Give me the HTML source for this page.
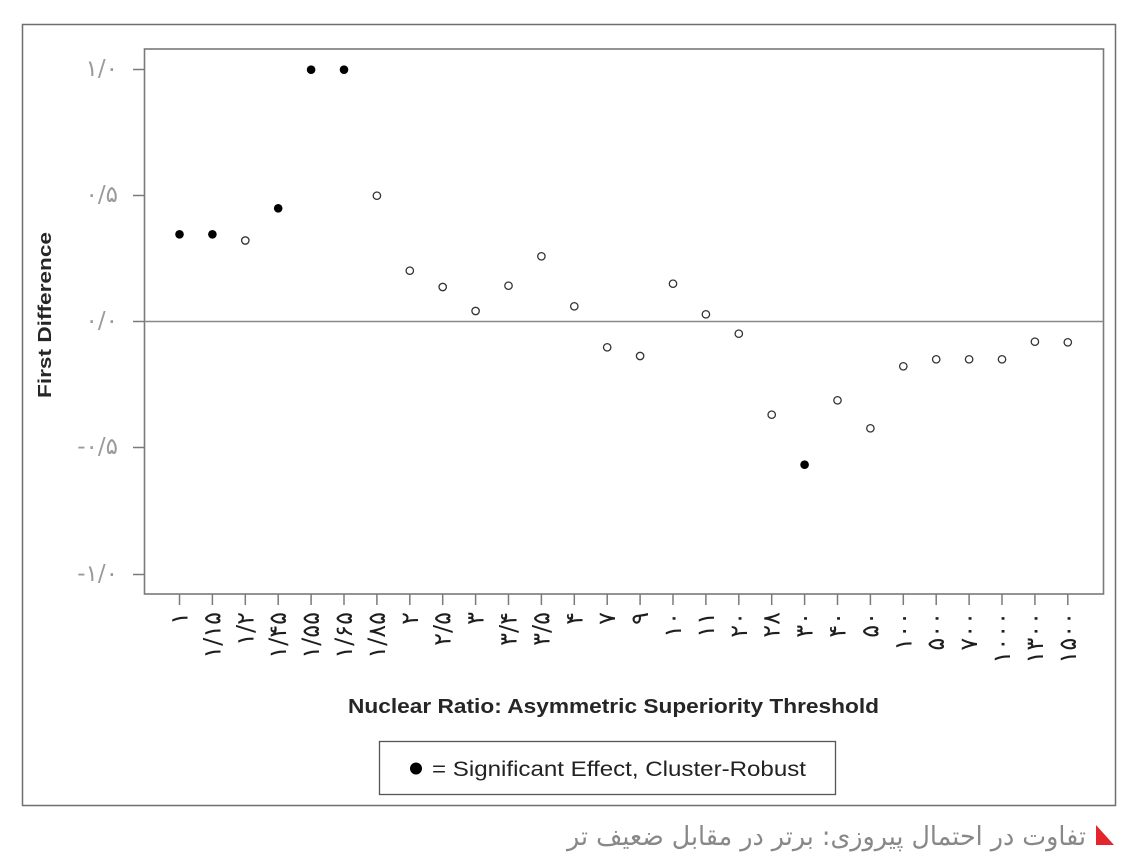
<!DOCTYPE html>
<html>
<head>
<meta charset="utf-8">
<style>
  html,body{margin:0;padding:0;background:#fff;}
  svg{display:block;}
</style>
</head>
<body>
<svg width="1140" height="858" viewBox="0 0 1140 858" xmlns="http://www.w3.org/2000/svg">
  <rect x="0" y="0" width="1140" height="858" fill="#fff"/>
  <!-- outer frame -->
  <rect x="22.5" y="24.5" width="1093" height="781" fill="none" stroke="#6e6e6e" stroke-width="1.5"/>
  <!-- plot box -->
  <rect x="144.5" y="49" width="959" height="545" fill="none" stroke="#7a7a7a" stroke-width="1.6"/>
  <!-- zero line -->
  <line x1="144.5" y1="321.5" x2="1103.5" y2="321.5" stroke="#888" stroke-width="1.5"/>

  <!-- y ticks -->
  <g stroke="#7a7a7a" stroke-width="1.5">
    <line x1="133" y1="69.5" x2="144.5" y2="69.5"/>
    <line x1="133" y1="195.5" x2="144.5" y2="195.5"/>
    <line x1="133" y1="321.5" x2="144.5" y2="321.5"/>
    <line x1="133" y1="447.5" x2="144.5" y2="447.5"/>
    <line x1="133" y1="574.5" x2="144.5" y2="574.5"/>
  </g>
  <g font-family="'DejaVu Sans', 'Liberation Sans', sans-serif" font-size="23" fill="#9a9a9a" text-anchor="end" dominant-baseline="central">
    <text x="118" y="69">۱/۰</text>
    <text x="118" y="195">۰/۵</text>
    <text x="118" y="321">۰/۰</text>
    <text x="118" y="447">-۰/۵</text>
    <text x="118" y="574">-۱/۰</text>
  </g>

  <!-- y axis title -->
  <text transform="translate(45,315) rotate(-90)" text-anchor="middle" dominant-baseline="central" font-family="'Liberation Sans', sans-serif" font-weight="bold" font-size="18" fill="#262626" textLength="166" lengthAdjust="spacingAndGlyphs">First Difference</text>

  <!-- x ticks -->
  <g stroke="#7a7a7a" stroke-width="1.5">
    <line x1="179.5" y1="594" x2="179.5" y2="605"/>
    <line x1="212.4" y1="594" x2="212.4" y2="605"/>
    <line x1="245.3" y1="594" x2="245.3" y2="605"/>
    <line x1="278.2" y1="594" x2="278.2" y2="605"/>
    <line x1="311.1" y1="594" x2="311.1" y2="605"/>
    <line x1="344.0" y1="594" x2="344.0" y2="605"/>
    <line x1="376.9" y1="594" x2="376.9" y2="605"/>
    <line x1="409.8" y1="594" x2="409.8" y2="605"/>
    <line x1="442.7" y1="594" x2="442.7" y2="605"/>
    <line x1="475.6" y1="594" x2="475.6" y2="605"/>
    <line x1="508.5" y1="594" x2="508.5" y2="605"/>
    <line x1="541.4" y1="594" x2="541.4" y2="605"/>
    <line x1="574.3" y1="594" x2="574.3" y2="605"/>
    <line x1="607.2" y1="594" x2="607.2" y2="605"/>
    <line x1="640.1" y1="594" x2="640.1" y2="605"/>
    <line x1="673.0" y1="594" x2="673.0" y2="605"/>
    <line x1="705.9" y1="594" x2="705.9" y2="605"/>
    <line x1="738.8" y1="594" x2="738.8" y2="605"/>
    <line x1="771.7" y1="594" x2="771.7" y2="605"/>
    <line x1="804.6" y1="594" x2="804.6" y2="605"/>
    <line x1="837.5" y1="594" x2="837.5" y2="605"/>
    <line x1="870.4" y1="594" x2="870.4" y2="605"/>
    <line x1="903.3" y1="594" x2="903.3" y2="605"/>
    <line x1="936.2" y1="594" x2="936.2" y2="605"/>
    <line x1="969.1" y1="594" x2="969.1" y2="605"/>
    <line x1="1002.0" y1="594" x2="1002.0" y2="605"/>
    <line x1="1034.9" y1="594" x2="1034.9" y2="605"/>
    <line x1="1067.8" y1="594" x2="1067.8" y2="605"/>
  </g>
  <!-- x tick labels (rotated) -->
  <g font-family="'DejaVu Sans', 'Liberation Sans', sans-serif" font-size="24" fill="#1e1e1e" text-anchor="end" dominant-baseline="central">
    <text transform="translate(179.5,612) rotate(-90)">۱</text>
    <text transform="translate(212.4,612) rotate(-90)">۱/۱۵</text>
    <text transform="translate(245.3,612) rotate(-90)">۱/۲</text>
    <text transform="translate(278.2,612) rotate(-90)">۱/۴۵</text>
    <text transform="translate(311.1,612) rotate(-90)">۱/۵۵</text>
    <text transform="translate(344.0,612) rotate(-90)">۱/۶۵</text>
    <text transform="translate(376.9,612) rotate(-90)">۱/۸۵</text>
    <text transform="translate(409.8,612) rotate(-90)">۲</text>
    <text transform="translate(442.7,612) rotate(-90)">۲/۵</text>
    <text transform="translate(475.6,612) rotate(-90)">۳</text>
    <text transform="translate(508.5,612) rotate(-90)">۳/۴</text>
    <text transform="translate(541.4,612) rotate(-90)">۳/۵</text>
    <text transform="translate(574.3,612) rotate(-90)">۴</text>
    <text transform="translate(607.2,612) rotate(-90)">۷</text>
    <text transform="translate(640.1,612) rotate(-90)">۹</text>
    <text transform="translate(673.0,612) rotate(-90)">۱۰</text>
    <text transform="translate(705.9,612) rotate(-90)">۱۱</text>
    <text transform="translate(738.8,612) rotate(-90)">۲۰</text>
    <text transform="translate(771.7,612) rotate(-90)">۲۸</text>
    <text transform="translate(804.6,612) rotate(-90)">۳۰</text>
    <text transform="translate(837.5,612) rotate(-90)">۴۰</text>
    <text transform="translate(870.4,612) rotate(-90)">۵۰</text>
    <text transform="translate(903.3,612) rotate(-90)">۱۰۰</text>
    <text transform="translate(936.2,612) rotate(-90)">۵۰۰</text>
    <text transform="translate(969.1,612) rotate(-90)">۷۰۰</text>
    <text transform="translate(1002.0,612) rotate(-90)">۱۰۰۰</text>
    <text transform="translate(1034.9,612) rotate(-90)">۱۳۰۰</text>
    <text transform="translate(1067.8,612) rotate(-90)">۱۵۰۰</text>
  </g>

  <!-- filled (significant) points -->
  <g fill="#000">
    <circle cx="179.5" cy="234.3" r="4.3"/>
    <circle cx="212.4" cy="234.3" r="4.3"/>
    <circle cx="278.2" cy="208.3" r="4.3"/>
    <circle cx="311.1" cy="69.7" r="4.3"/>
    <circle cx="344.0" cy="69.7" r="4.3"/>
    <circle cx="804.6" cy="464.7" r="4.3"/>
  </g>
  <!-- open points -->
  <g fill="#fff" stroke="#333" stroke-width="1.3">
    <circle cx="245.3" cy="240.5" r="3.7"/>
    <circle cx="376.9" cy="195.7" r="3.7"/>
    <circle cx="409.8" cy="270.7" r="3.7"/>
    <circle cx="442.7" cy="287.0" r="3.7"/>
    <circle cx="475.6" cy="311.0" r="3.7"/>
    <circle cx="508.5" cy="285.7" r="3.7"/>
    <circle cx="541.4" cy="256.3" r="3.7"/>
    <circle cx="574.3" cy="306.3" r="3.7"/>
    <circle cx="607.2" cy="347.3" r="3.7"/>
    <circle cx="640.1" cy="356.0" r="3.7"/>
    <circle cx="673.0" cy="283.7" r="3.7"/>
    <circle cx="705.9" cy="314.3" r="3.7"/>
    <circle cx="738.8" cy="333.7" r="3.7"/>
    <circle cx="771.7" cy="414.7" r="3.7"/>
    <circle cx="837.5" cy="400.3" r="3.7"/>
    <circle cx="870.4" cy="428.3" r="3.7"/>
    <circle cx="903.3" cy="366.3" r="3.7"/>
    <circle cx="936.2" cy="359.3" r="3.7"/>
    <circle cx="969.1" cy="359.3" r="3.7"/>
    <circle cx="1002.0" cy="359.3" r="3.7"/>
    <circle cx="1034.9" cy="341.7" r="3.7"/>
    <circle cx="1067.8" cy="342.3" r="3.7"/>
  </g>

  <!-- x axis title -->
  <text x="613.5" y="713" text-anchor="middle" font-family="'Liberation Sans', sans-serif" font-weight="bold" font-size="20" fill="#262626" textLength="531" lengthAdjust="spacingAndGlyphs">Nuclear Ratio: Asymmetric Superiority Threshold</text>

  <!-- legend -->
  <rect x="379.5" y="741.5" width="456" height="53" fill="#fff" stroke="#555" stroke-width="1.3"/>
  <circle cx="416" cy="768.5" r="6" fill="#000"/>
  <text x="432" y="776" font-family="'Liberation Sans', sans-serif" font-size="21" fill="#222" textLength="374" lengthAdjust="spacingAndGlyphs">= Significant Effect, Cluster-Robust</text>

  <!-- caption -->
  <polygon points="1096,825 1096,845 1114,845" fill="#e4262c"/>
  <text x="1086" y="845" text-anchor="end" font-family="'DejaVu Sans', 'Liberation Sans', sans-serif" font-size="26" fill="#888888" textLength="519" lengthAdjust="spacingAndGlyphs">تفاوت در احتمال پیروزی: برتر در مقابل ضعیف تر</text>
</svg>
</body>
</html>
